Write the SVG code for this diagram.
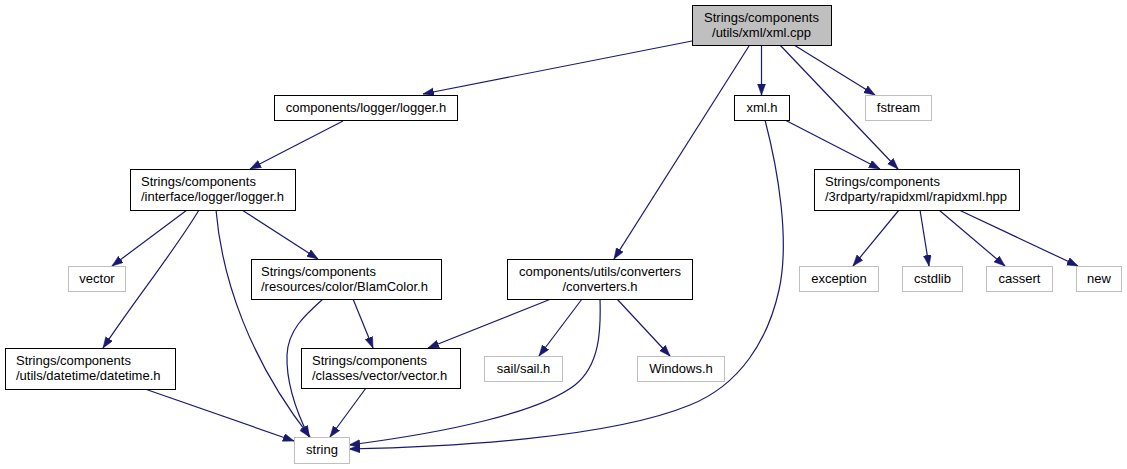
<svg xmlns="http://www.w3.org/2000/svg" width="1127" height="469" viewBox="0 0 1127 469">
<defs>
<marker id="arr" markerUnits="userSpaceOnUse" markerWidth="12" markerHeight="9" refX="11" refY="4" orient="auto">
<path d="M0,0 L11,4 L0,8 z" fill="#191970" stroke="#191970" stroke-width="0.5"/>
</marker>
<style>
.e{fill:none;stroke:#191970;stroke-width:1.2;marker-end:url(#arr)}
.b{fill:#fff;stroke:#000;stroke-width:1}
.g{fill:#fff;stroke:#bfbfbf;stroke-width:1}
.r{fill:#bfbfbf;stroke:#000;stroke-width:1}
text{font-family:"Liberation Sans",Arial,sans-serif;font-size:13px;fill:#000}
.c{text-anchor:middle}
</style>
</defs>
<rect width="1127" height="469" fill="#fff"/>
<g id="connectors">
<path class="e" d="M692,41 L423,94"/>
<path class="e" d="M761.5,45 L761.5,95"/>
<path class="e" d="M794,45 L875,95"/>
<path class="e" d="M780,45 L898,169"/>
<path class="e" d="M749,46 L614,259"/>
<path class="e" d="M785,120 L880,169"/>
<path class="e" d="M765,120 C778,170 790,240 779,290 C768,340 740,385 690,405 C610,438 450,447 349,449"/>
<path class="e" d="M600,299 C601,330 600,365 575,385 C540,412 450,432 349,445"/>
<path class="e" d="M343,121 L250,169"/>
<path class="e" d="M187,210 L112,266"/>
<path class="e" d="M199,210 C175,250 135,300 103,348"/>
<path class="e" d="M216,210 C222,280 250,360 310,437"/>
<path class="e" d="M242,210 L318,259"/>
<path class="e" d="M323,299 C305,315 288,330 287,355 C286,385 298,415 309,437"/>
<path class="e" d="M353,299 L373,348"/>
<path class="e" d="M551,299 L428,348"/>
<path class="e" d="M582,299 L539,356"/>
<path class="e" d="M617,299 L670,356"/>
<path class="e" d="M366,388 L330,437"/>
<path class="e" d="M145,389 L294,441"/>
<path class="e" d="M899,210 L853,266"/>
<path class="e" d="M920,210 L929,266"/>
<path class="e" d="M939,210 L1005,266"/>
<path class="e" d="M959,210 L1078,266"/>
</g>
<g id="root"><rect class="r" x="692.5" y="5.5" width="139" height="40"/><text class="c" x="761.5" y="21.5">Strings/components</text><text class="c" x="761.5" y="36.5">/utils/xml/xml.cpp</text></g>
<g id="n_logger"><rect class="b" x="274.5" y="95.5" width="183" height="25"/><text class="c" x="366" y="111.5">components/logger/logger.h</text></g>
<g id="n_xmlh"><rect class="b" x="734.5" y="95.5" width="55" height="25"/><text class="c" x="762" y="111.5">xml.h</text></g>
<g id="n_fstream"><rect class="g" x="865.5" y="95.5" width="66" height="25"/><text class="c" x="898.5" y="111.5">fstream</text></g>
<g id="n_ilogger"><rect class="b" x="130.5" y="169.5" width="165" height="41"/><text x="141" y="186">Strings/components</text><text x="141" y="201">/interface/logger/logger.h</text></g>
<g id="n_rapidxml"><rect class="b" x="814.5" y="169.5" width="205" height="41"/><text x="825" y="186">Strings/components</text><text x="825" y="201">/3rdparty/rapidxml/rapidxml.hpp</text></g>
<g id="n_vector"><rect class="g" x="68.5" y="266.5" width="57" height="25"/><text class="c" x="97" y="282.5">vector</text></g>
<g id="n_blam"><rect class="b" x="251.5" y="259.5" width="190" height="40"/><text x="261" y="276">Strings/components</text><text x="261" y="291">/resources/color/BlamColor.h</text></g>
<g id="n_converters"><rect class="b" x="507.5" y="259.5" width="185" height="40"/><text class="c" x="600" y="276">components/utils/converters</text><text class="c" x="600" y="291">/converters.h</text></g>
<g id="n_exception"><rect class="g" x="799.5" y="266.5" width="79" height="25"/><text class="c" x="839" y="282.5">exception</text></g>
<g id="n_cstdlib"><rect class="g" x="902.5" y="266.5" width="60" height="25"/><text class="c" x="932.5" y="282.5">cstdlib</text></g>
<g id="n_cassert"><rect class="g" x="986.5" y="266.5" width="66" height="25"/><text class="c" x="1019.5" y="282.5">cassert</text></g>
<g id="n_new"><rect class="g" x="1076.5" y="266.5" width="45" height="25"/><text class="c" x="1099" y="282.5">new</text></g>
<g id="n_datetime"><rect class="b" x="5.5" y="348.5" width="170" height="41"/><text x="16" y="365">Strings/components</text><text x="16" y="380">/utils/datetime/datetime.h</text></g>
<g id="n_vectorh"><rect class="b" x="301.5" y="348.5" width="159" height="40"/><text x="312" y="365">Strings/components</text><text x="312" y="380">/classes/vector/vector.h</text></g>
<g id="n_sail"><rect class="g" x="484.5" y="356.5" width="78" height="25"/><text class="c" x="523.5" y="372.5">sail/sail.h</text></g>
<g id="n_windows"><rect class="g" x="637.5" y="356.5" width="87" height="25"/><text class="c" x="681" y="372.5">Windows.h</text></g>
<g id="n_string"><rect class="g" x="294.5" y="437.5" width="55" height="26"/><text class="c" x="322" y="454">string</text></g>
</svg>
